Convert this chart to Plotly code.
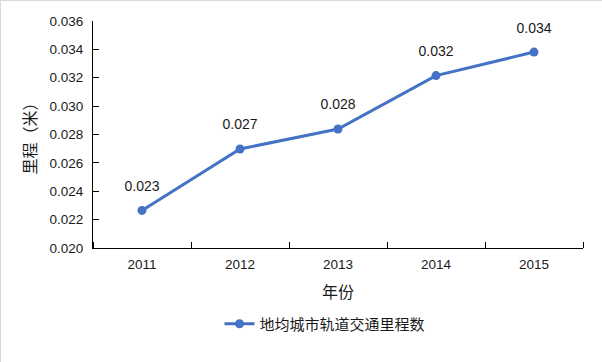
import plotly.graph_objects as go

years = ["2011", "2012", "2013", "2014", "2015"]
values = [0.02265, 0.02698, 0.02839, 0.03215, 0.03381]
labels = ["0.023", "0.027", "0.028", "0.032", "0.034"]
series_name = "地均城市轨道交通里程数"
y_ticks = [0.020, 0.022, 0.024, 0.026, 0.028, 0.030, 0.032, 0.034, 0.036]
x_boundaries = [-0.5, 0.5, 1.5, 2.5, 3.5, 4.5]

LATIN = "Liberation Sans, Arial, sans-serif"
CJK = "Noto Sans CJK SC, sans-serif"
BLUE = "#4472C4"
TXT = "#1a1a1a"

W, H = 602, 362
L, R, T, B = 92, 20, 20, 115
pw, ph = W - L - R, H - T - B

xs = list(range(len(years)))

fig = go.Figure()
fig.add_trace(go.Scatter(
    x=xs, y=values, mode="lines+markers", name=series_name,
    line=dict(color=BLUE, width=3),
    marker=dict(color=BLUE, size=9),
))
# data labels: an invisible large marker sets the label's distance above the point
fig.add_trace(go.Scatter(
    x=xs, y=values, mode="markers+text", showlegend=False, hoverinfo="skip",
    marker=dict(size=24, color="rgba(0,0,0,0)"),
    text=labels, textposition="top center", cliponaxis=False,
    textfont=dict(family=LATIN, size=14, color=TXT),
))

fig.update_layout(
    width=W, height=H,
    margin=dict(l=L, r=R, t=T, b=B, autoexpand=False),
    paper_bgcolor="white", plot_bgcolor="white",
    showlegend=True,
    legend=dict(orientation="h", x=(324 - L) / pw, xanchor="center",
                y=-(323 - (T + ph)) / ph, yanchor="middle",
                font=dict(family=CJK, size=15, color=TXT)),
)

fig.update_xaxes(
    range=[-0.5, 4.5], automargin=False,
    tickmode="array", tickvals=xs, ticktext=years,
    showline=True, linecolor="black", linewidth=1,
    ticks="", showgrid=False, zeroline=False, ticklabelstandoff=4,
    tickfont=dict(family=LATIN, size=13.5, color=TXT),
    title=dict(text="年份", font=dict(family=CJK, size=16, color=TXT)),
    minor=dict(tickmode="array", tickvals=x_boundaries, ticks="inside",
               ticklen=6, tickcolor="black", showgrid=False),
)
fig.update_yaxes(
    range=[0.020, 0.036], tickvals=y_ticks, tickformat=".3f", automargin=True,
    showline=True, linecolor="black", linewidth=1,
    ticks="inside", ticklen=6, tickcolor="black", ticklabelstandoff=6,
    showgrid=False, zeroline=False,
    tickfont=dict(family=LATIN, size=13.5, color=TXT),
    title=dict(text="里程（米）", font=dict(family=CJK, size=16, color=TXT), standoff=8),
)

post = (
    "document.body.style.margin='0';"
    "var d=document.getElementsByClassName('plotly-graph-div')[0];"
    "d.style.boxSizing='border-box';d.style.border='1px solid #d9d9d9';"
)
fig.write_html("out.html", post_script=post)
